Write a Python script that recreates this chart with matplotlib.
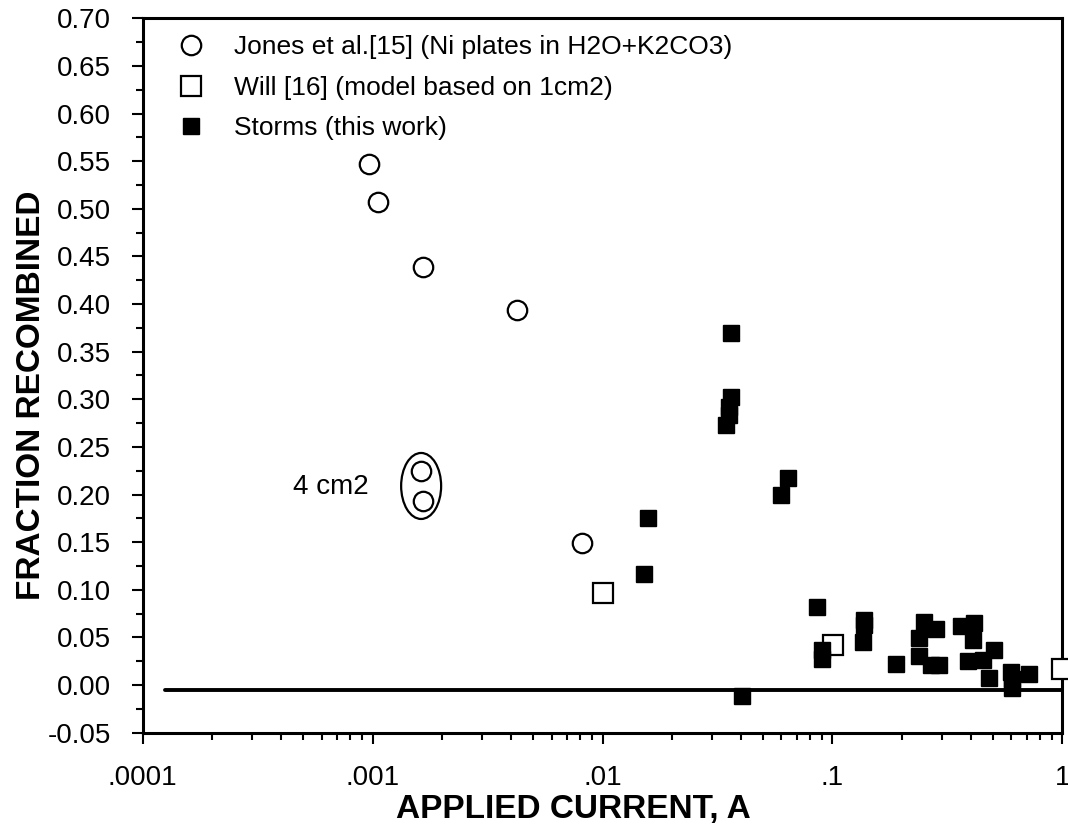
import matplotlib
matplotlib.use("Agg")
import matplotlib.pyplot as plt
from matplotlib.patches import Ellipse
from matplotlib.transforms import ScaledTranslation
from matplotlib.ticker import FixedLocator, MultipleLocator, LogLocator, NullFormatter

plt.rcParams['font.family'] = ['Liberation Sans', 'DejaVu Sans']

# Jones et al. [15] - open circles
jones_x = [0.00096, 0.001054, 0.001663, 0.00424, 0.00813, 0.001626, 0.001663]
jones_y = [0.547, 0.507, 0.439, 0.3935, 0.1495, 0.225, 0.193]

# Will [16] - open squares
will_x = [0.01004, 0.1006, 1.0]
will_y = [0.097, 0.042, 0.017]

# Storms (this work) - filled squares
storms_x = [0.0363, 0.0363, 0.0355, 0.0354, 0.0345, 0.0643, 0.0598, 0.0157, 0.0151,
            0.0855, 0.0406, 0.0898, 0.0898, 0.137, 0.137, 0.136, 0.189, 0.249,
            0.281, 0.239, 0.239, 0.268, 0.290, 0.362, 0.414, 0.408, 0.387, 0.450,
            0.506, 0.481, 0.598, 0.606, 0.602, 0.718]
storms_y = [0.370, 0.302, 0.292, 0.284, 0.273, 0.217, 0.200, 0.175, 0.117,
            0.082, -0.011, 0.037, 0.027, 0.068, 0.063, 0.045, 0.022, 0.066,
            0.059, 0.049, 0.030, 0.021, 0.021, 0.062, 0.065, 0.047, 0.025, 0.026,
            0.037, 0.007, 0.014, -0.003, 0.006, 0.012]

# baseline
base_x = [0.000125, 1.0]
base_y = [-0.005, -0.005]

xticks = [0.0001, 0.001, 0.01, 0.1, 1]
xticklabels = ['.0001', '.001', '.01', '.1', '1']

fig = plt.figure(figsize=(10.68, 8.32), dpi=100)
ax = fig.add_axes([0.1336, 0.1194, 0.8611, 0.8586])

ax.plot(base_x, base_y, color='black', lw=2.8, solid_capstyle='round', zorder=2)

ax.plot(jones_x, jones_y, 'o', ls='none', ms=14, mfc='white', mec='black', mew=1.6,
        label='Jones et al.[15] (Ni plates in H2O+K2CO3)', zorder=3)
ax.plot(will_x, will_y, 's', ls='none', ms=14, mfc='white', mec='black', mew=1.6,
        label='Will [16] (model based on 1cm2)', zorder=3, clip_on=False)
ax.plot(storms_x, storms_y, 's', ls='none', ms=11.5, mfc='black', mec='black', mew=1,
        label='Storms (this work)', zorder=4)

# ellipse around the 4 cm2 points
tr = fig.dpi_scale_trans + ScaledTranslation(0.001626, 0.209, ax.transData)
ax.add_patch(Ellipse((0, 0), 0.40, 0.66, fill=False, ec='black', lw=1.6, transform=tr))
ax.text(0.00066, 0.208, '4 cm2', fontsize=20, ha='center', va='center')

ax.set_xscale('log')
ax.set_xlim(0.0001, 1)
ax.set_ylim(-0.05, 0.70)
ax.xaxis.set_major_locator(FixedLocator(xticks))
ax.set_xticklabels(xticklabels)
ax.xaxis.set_minor_locator(LogLocator(base=10, subs=range(2, 10)))
ax.xaxis.set_minor_formatter(NullFormatter())
ax.yaxis.set_major_locator(MultipleLocator(0.05))
ax.yaxis.set_minor_locator(MultipleLocator(0.025))
ax.yaxis.set_major_formatter(plt.FuncFormatter(lambda v, p: '%.2f' % v))

ax.tick_params(which='major', direction='out', length=8, width=1.5, labelsize=20)
ax.tick_params(which='minor', direction='out', length=5, width=1.5)
ax.tick_params(axis='y', which='major', pad=15)
ax.tick_params(axis='x', which='major', pad=15)
ax.tick_params(top=False, right=False, which='both')
for s in ax.spines.values():
    s.set_linewidth(2.2)

ax.set_xlabel('APPLIED CURRENT, A', fontsize=24, fontweight='bold')
ax.xaxis.set_label_coords(0.468, -0.086)
ax.set_ylabel('FRACTION RECOMBINED', fontsize=24, fontweight='bold')
ax.yaxis.set_label_coords(-0.104, 0.473)

ax.legend(loc='upper left', bbox_to_anchor=(0.02, 1.0), frameon=False, fontsize=19,
          handlelength=1.0, handletextpad=1.1, labelspacing=0.62, borderpad=0.15)

fig.savefig('out.png', dpi=100)
